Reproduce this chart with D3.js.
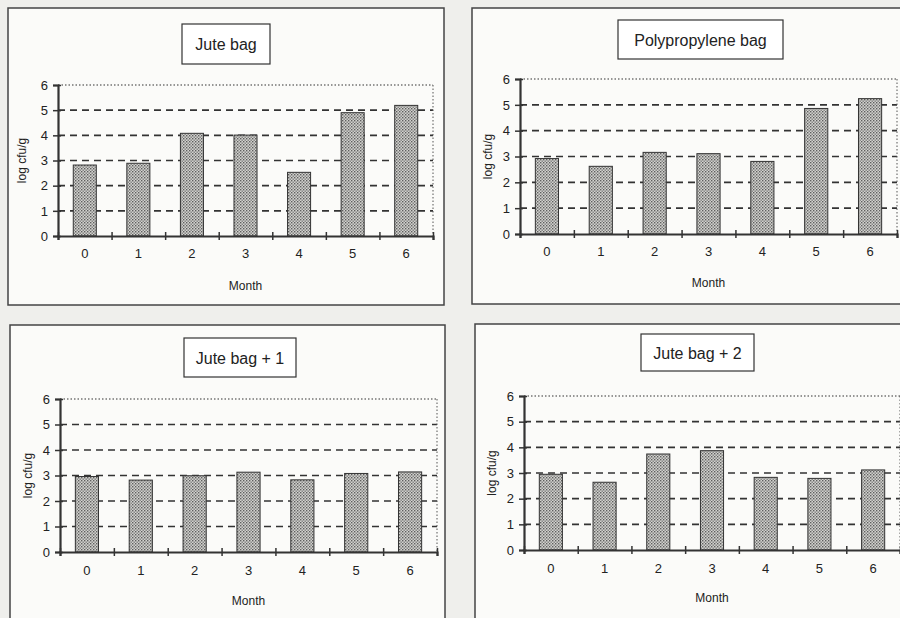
<!DOCTYPE html>
<html>
<head>
<meta charset="utf-8">
<script src="https://cdn.jsdelivr.net/npm/d3@7"></script>
<style>
  body { margin: 0; background: #efefec; }
  svg { display: block; }
  text { font-family: "Liberation Sans", Arial, sans-serif; fill: #222; }
</style>
</head>
<body>
<div id="chart"></div>
<script>
// data
var months = ["0", "1", "2", "3", "4", "5", "6"];
var yTicks = [0, 1, 2, 3, 4, 5, 6];
var titles = ["Jute bag", "Polypropylene bag", "Jute bag + 1", "Jute bag + 2"];
var juteBag = [2.82, 2.89, 4.08, 4.01, 2.53, 4.90, 5.19];
var polyBag = [2.92, 2.62, 3.16, 3.11, 2.81, 4.86, 5.24];
var juteBag1 = [2.96, 2.82, 2.99, 3.13, 2.83, 3.08, 3.14];
var juteBag2 = [2.95, 2.64, 3.74, 3.87, 2.83, 2.79, 3.12];
var series = [juteBag, polyBag, juteBag1, juteBag2];

// panel placement on the page
var panels = [
  { frame: [8, 8, 436, 297], title: [182, 24, 88, 40], x0: 58, x1: 433, yBot: 236, yTop: 85, ylab: 22, tickY: 253, monthY: 286 },
  { frame: [472, 8, 440, 296], title: [618, 20, 165, 39], x0: 520, x1: 897, yBot: 234, yTop: 79, ylab: 488, tickY: 251, monthY: 283 },
  { frame: [10, 325, 435, 300], title: [184, 338, 112, 39], x0: 60, x1: 437, yBot: 552, yTop: 399, ylab: 28, tickY: 570, monthY: 601 },
  { frame: [475, 324, 440, 300], title: [641, 334, 113, 37], x0: 524, x1: 900, yBot: 550, yTop: 396, ylab: 492, tickY: 568, monthY: 598 }
];

var svg = d3.select("#chart").append("svg")
  .attr("width", 900)
  .attr("height", 618);

// dotted fill for the bars
var pat = svg.append("defs").append("pattern")
  .attr("id", "dots")
  .attr("width", 3)
  .attr("height", 3)
  .attr("patternUnits", "userSpaceOnUse");
pat.append("rect").attr("width", 3).attr("height", 3).attr("fill", "#d2d2ce");
pat.append("rect").attr("x", 0).attr("y", 0).attr("width", 1.4).attr("height", 1.4).attr("fill", "#5e5e5e");
pat.append("rect").attr("x", 1.5).attr("y", 1.5).attr("width", 1.4).attr("height", 1.4).attr("fill", "#7a7a7a");

panels.forEach(function(p, i) {
  var g = svg.append("g");
  var values = series[i];

  g.append("rect")
    .attr("x", p.frame[0]).attr("y", p.frame[1])
    .attr("width", p.frame[2]).attr("height", p.frame[3])
    .attr("fill", "#fbfbf9")
    .attr("stroke", "#444")
    .attr("stroke-width", 1.5);

  // title box
  g.append("rect")
    .attr("x", p.title[0]).attr("y", p.title[1])
    .attr("width", p.title[2]).attr("height", p.title[3])
    .attr("fill", "#fff")
    .attr("stroke", "#333")
    .attr("stroke-width", 1.2);
  g.append("text")
    .attr("x", p.title[0] + p.title[2] / 2)
    .attr("y", p.title[1] + p.title[3] / 2 + 6)
    .attr("text-anchor", "middle")
    .attr("font-size", 16)
    .text(titles[i]);

  var yScale = d3.scaleLinear().domain([0, 6]).range([p.yBot, p.yTop]);
  var xBand = d3.scaleBand().domain(months).range([p.x0, p.x1]).paddingInner(0.57).paddingOuter(0.285);
  var xEdge = d3.scaleLinear().domain([0, months.length]).range([p.x0, p.x1]);

  // gridlines
  g.selectAll(".grid")
    .data(yTicks.filter(function(d) { return d > 0; }))
    .enter()
    .append("line")
    .attr("x1", p.x0)
    .attr("x2", p.x1)
    .attr("y1", function(d) { return yScale(d); })
    .attr("y2", function(d) { return yScale(d); })
    .attr("stroke", "#333")
    .attr("stroke-width", function(d) { return d == 6 ? 1.2 : 1.6; })
    .attr("stroke-dasharray", function(d) { return d == 6 ? "1.5,2" : "7,5"; });

  g.append("line")
    .attr("x1", p.x1).attr("x2", p.x1)
    .attr("y1", yScale(6)).attr("y2", yScale(0))
    .attr("stroke", "#555")
    .attr("stroke-width", 1)
    .attr("stroke-dasharray", "1.5,2");

  // bars
  g.selectAll(".bar")
    .data(values)
    .enter()
    .append("rect")
    .attr("x", function(d, j) { return xBand(months[j]); })
    .attr("y", function(d) { return yScale(d); })
    .attr("width", xBand.bandwidth())
    .attr("height", function(d) { return yScale(0) - yScale(d); })
    .attr("fill", "url(#dots)")
    .attr("stroke", "#333")
    .attr("stroke-width", 1);

  // y axis
  var yAxis = g.append("g")
    .attr("transform", "translate(" + p.x0 + ",0)")
    .call(d3.axisLeft(yScale).tickValues(yTicks).tickFormat(d3.format("d")).tickSize(5).tickPadding(5));
  yAxis.select(".domain").attr("stroke", "#333").attr("stroke-width", 2.2);
  yAxis.selectAll(".tick line").attr("x1", 3).attr("stroke", "#333").attr("stroke-width", 1.5);
  yAxis.selectAll("text").attr("font-size", 13).style("font-family", "Liberation Sans, Arial, sans-serif").attr("fill", "#333");

  // x axis: boundary ticks + labels under the bars
  var xAxis = g.append("g")
    .attr("transform", "translate(0," + p.yBot + ")")
    .call(d3.axisBottom(xEdge).ticks(months.length).tickFormat("").tickSize(4));
  xAxis.select(".domain").attr("stroke", "#333").attr("stroke-width", 2.2);
  xAxis.selectAll(".tick line").attr("y1", -4).attr("stroke", "#333").attr("stroke-width", 1.5);

  g.selectAll(".xlab")
    .data(months)
    .enter()
    .append("text")
    .attr("x", function(d) { return xBand(d) + xBand.bandwidth() / 2; })
    .attr("y", p.tickY + 5)
    .attr("text-anchor", "middle")
    .attr("font-size", 13)
    .attr("fill", "#333")
    .text(function(d) { return d; });

  g.append("text")
    .attr("x", (p.x0 + p.x1) / 2)
    .attr("y", p.monthY + 4)
    .attr("text-anchor", "middle")
    .attr("font-size", 12)
    .text("Month");

  g.append("text")
    .attr("transform", "translate(" + (p.ylab + 4) + "," + ((p.yBot + p.yTop) / 2) + ") rotate(-90)")
    .attr("text-anchor", "middle")
    .attr("font-size", 12)
    .text("log cfu/g");
});
</script>
</body>
</html>
